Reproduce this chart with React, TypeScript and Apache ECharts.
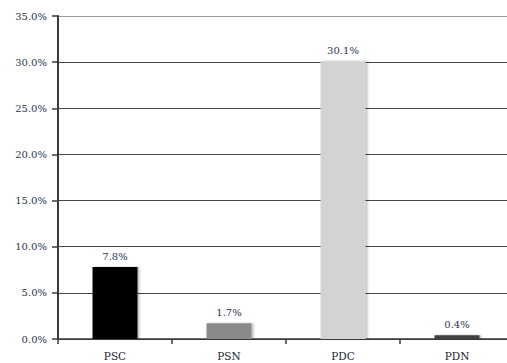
import React, { useEffect, useRef } from "react";
import * as echarts from "echarts";

const categories = ["PSC", "PSN", "PDC", "PDN"];
const shares = [7.8, 1.7, 30.1, 0.4];
const barColors = ["#000000", "#8a8a8a", "#d3d3d3", "#3f3f3f"];
const axisMax = 35;
const axisStep = 5;

export default function App() {
  const ref = useRef<HTMLDivElement>(null);

  useEffect(() => {
    if (!ref.current) return;
    const chart = echarts.init(ref.current, undefined, { renderer: "svg" });
    const serif = "'DejaVu Serif', 'Liberation Serif', serif";
    chart.setOption({
      animation: false,
      backgroundColor: "#ffffff",
      grid: { left: 58, right: 0, top: 16, bottom: 24, containLabel: false },
      xAxis: {
        type: "category",
        data: categories,
        axisLine: { lineStyle: { color: "#3a3a3a", width: 1.5 } },
        axisTick: { show: true, length: 5, lineStyle: { color: "#3a3a3a", width: 1.5 } },
        axisLabel: { color: "#1d2433", fontFamily: serif, fontSize: 10.5, margin: 11 },
      },
      yAxis: {
        type: "value",
        min: 0,
        max: axisMax,
        interval: axisStep,
        axisLine: { show: true, lineStyle: { color: "#3a3a3a", width: 2 } },
        axisTick: { show: true, length: 6, lineStyle: { color: "#3a3a3a", width: 1.5 } },
        axisLabel: {
          color: "#2a3550",
          fontFamily: serif,
          fontSize: 10,
          margin: 11,
          formatter: (v: number) => v.toFixed(1) + "%",
        },
        splitLine: {
          show: true,
          lineStyle: {
            color: ["#444444", "#444444", "#444444", "#444444", "#444444", "#444444", "#444444", "#9a9a9a"],
            width: 1.2,
          },
        },
      },
      series: [
        {
          type: "bar",
          barWidth: 45,
          data: shares.map((v, i) => ({
            value: v,
            itemStyle: { color: barColors[i] },
          })),
          itemStyle: {
            shadowColor: "rgba(0,0,0,0.25)",
            shadowBlur: 2,
            shadowOffsetX: 2,
            shadowOffsetY: 0,
          },
          label: {
            show: true,
            position: "top",
            distance: 6,
            color: "#2a3550",
            fontFamily: serif,
            fontSize: 10,
            formatter: (p: any) => p.value.toFixed(1) + "%",
          },
        },
      ],
    });
    return () => chart.dispose();
  }, []);

  return (
    <div
      ref={ref}
      style={{ position: "absolute", left: 0, top: 0, width: 514, height: 363 }}
    />
  );
}
